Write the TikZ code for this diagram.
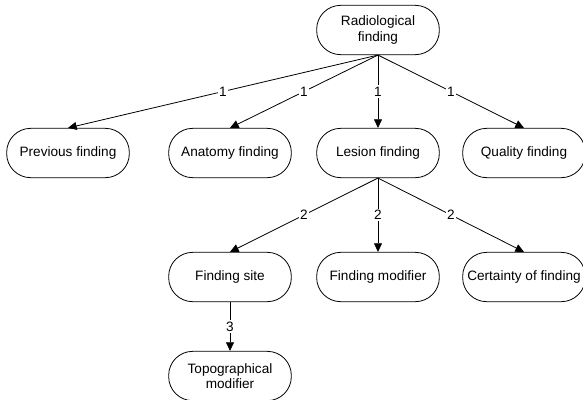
\documentclass[tikz,border=0pt]{standalone}
\usepackage{fontspec}
\setmainfont{Liberation Sans}
\usepackage{tikz}
\usetikzlibrary{arrows.meta}
\tikzset{
  % rounded box = finding type
  finding/.style={draw, rounded corners=18pt, line width=0.6pt,
                  minimum width=92pt, minimum height=37pt,
                  inner xsep=1pt, align=center,
                  font=\fontsize{10.2}{11.6}\selectfont},
  % arrow from parent to child
  link/.style={-{Triangle[length=6.5pt,width=6pt]}, line width=0.6pt},
  % level number on a link
  level/.style={fill=white, inner sep=1pt,
                font=\fontsize{10.2}{12}\selectfont},
}

\begin{document}
\begin{tikzpicture}[x=0.75pt, y=-0.75pt]
  \useasboundingbox (0,0) rectangle (583,400);
  % root
  \node[finding] (rad) at (378,30) {Radiological\\finding};
  % first level
  \node[finding] (prev)    at ( 68,153) {Previous finding};
  \node[finding] (anat)    at (230,153) {Anatomy finding};
  \node[finding] (lesion)  at (378,153) {Lesion finding};
  \node[finding] (quality) at (524,153) {Quality finding};
  % second level
  \node[finding] (site)      at (230,277) {Finding site};
  \node[finding] (modif)     at (378,277) {Finding modifier};
  \node[finding] (certainty) at (524,277) {Certainty of finding};
  % third level
  \node[finding] (topo) at (230,376) {Topographical\\modifier};

  \foreach \child in {prev, anat, lesion, quality}
    \draw[link] (rad.south) -- node[level] {1} (\child.north);
  \foreach \child in {site, modif, certainty}
    \draw[link] (lesion.south) -- node[level] {2} (\child.north);
  \draw[link] (site.south) -- node[level] {3} (topo.north);
\end{tikzpicture}
\end{document}
